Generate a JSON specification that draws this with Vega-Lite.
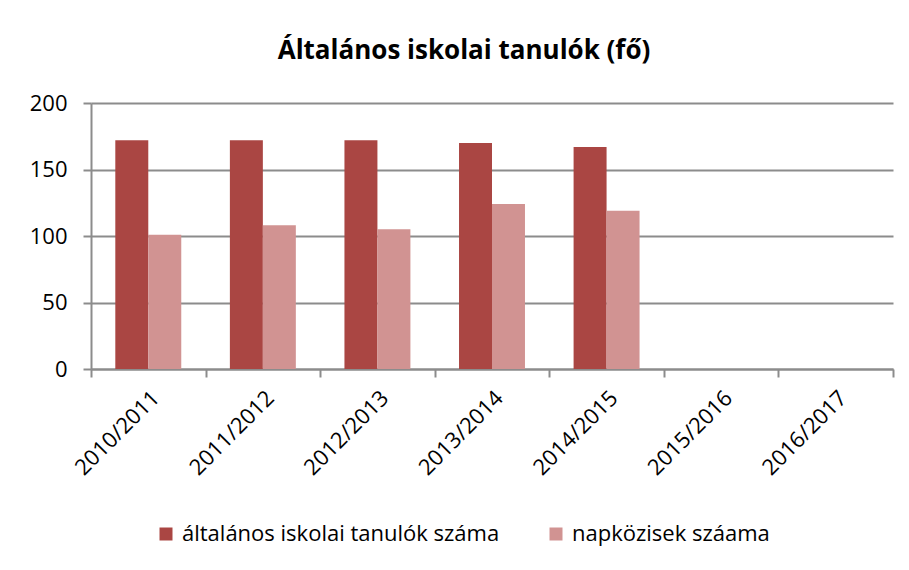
{
  "$schema": "https://vega.github.io/schema/vega-lite/v6.json",
  "width": 802,
  "height": 266,
  "autosize": {"type": "none"},
  "padding": {"left": 91, "top": 103, "right": 16, "bottom": 201},
  "background": "white",
  "title": {
    "text": "Általános iskolai tanulók (fő)",
    "font": "Open Sans",
    "fontSize": 26,
    "fontWeight": "bold",
    "color": "#000000",
    "anchor": "middle",
    "frame": "group",
    "dx": -28,
    "offset": 28
  },
  "config": {"view": {"stroke": null}},
  "data": {
    "values": [
      {"year": "2010/2011", "series": "általános iskolai tanulók száma", "value": 172},
      {"year": "2010/2011", "series": "napközisek száama", "value": 101},
      {"year": "2011/2012", "series": "általános iskolai tanulók száma", "value": 172},
      {"year": "2011/2012", "series": "napközisek száama", "value": 108},
      {"year": "2012/2013", "series": "általános iskolai tanulók száma", "value": 172},
      {"year": "2012/2013", "series": "napközisek száama", "value": 105},
      {"year": "2013/2014", "series": "általános iskolai tanulók száma", "value": 170},
      {"year": "2013/2014", "series": "napközisek száama", "value": 124},
      {"year": "2014/2015", "series": "általános iskolai tanulók száma", "value": 167},
      {"year": "2014/2015", "series": "napközisek száama", "value": 119}
    ]
  },
  "mark": {"type": "bar"},
  "encoding": {
    "x": {
      "field": "year",
      "type": "nominal",
      "scale": {
        "domain": ["2010/2011", "2011/2012", "2012/2013", "2013/2014", "2014/2015", "2015/2016", "2016/2017"],
        "paddingInner": 0,
        "paddingOuter": 0
      },
      "axis": {
        "title": null,
        "labelAngle": -45,
        "labelFont": "Open Sans",
        "labelFontSize": 22,
        "labelColor": "#000000",
        "labelPadding": 10,
        "tickBand": "extent",
        "tickSize": 8,
        "tickColor": "#8c8c8c",
        "tickWidth": 2,
        "domainColor": "#8c8c8c",
        "domainWidth": 2,
        "grid": false
      }
    },
    "xOffset": {
      "field": "series",
      "type": "nominal",
      "scale": {
        "domain": ["általános iskolai tanulók száma", "napközisek száama"],
        "paddingInner": 0,
        "paddingOuter": 0.737
      }
    },
    "y": {
      "field": "value",
      "type": "quantitative",
      "scale": {"domain": [0, 200], "nice": false},
      "axis": {
        "title": null,
        "values": [0, 50, 100, 150, 200],
        "labelFont": "Open Sans",
        "labelFontSize": 22,
        "labelColor": "#000000",
        "labelPadding": 16,
        "tickSize": 8,
        "tickColor": "#8c8c8c",
        "tickWidth": 2,
        "domainColor": "#8c8c8c",
        "domainWidth": 2,
        "gridColor": "#8c8c8c",
        "gridWidth": 2
      }
    },
    "color": {
      "field": "series",
      "type": "nominal",
      "scale": {
        "domain": ["általános iskolai tanulók száma", "napközisek száama"],
        "range": ["#AA4643", "#D19392"]
      },
      "legend": {
        "title": null,
        "orient": "none",
        "legendX": 64,
        "legendY": 420,
        "direction": "horizontal",
        "symbolType": "square",
        "symbolSize": 169,
        "symbolStrokeWidth": 0,
        "labelFont": "Open Sans",
        "labelFontSize": 22,
        "labelColor": "#000000",
        "labelOffset": 5,
        "columnPadding": 45,
        "labelLimit": 0
      }
    }
  }
}
